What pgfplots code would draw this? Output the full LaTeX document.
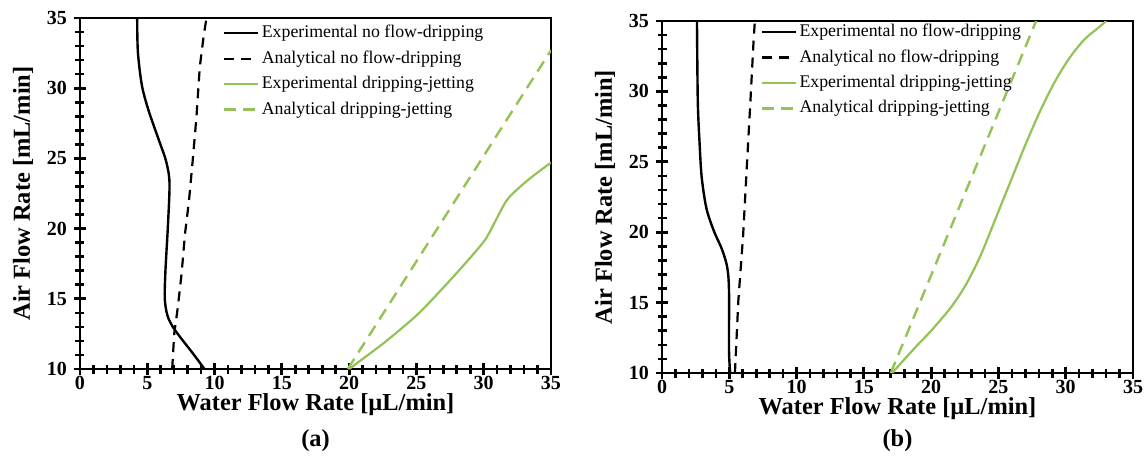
\documentclass[border=0pt]{standalone}
\usepackage{fontspec}
\setmainfont{Liberation Serif}
\usepackage{pgfplots}
\pgfplotsset{compat=1.18}
\definecolor{lgreen}{RGB}{148,194,86}

\pgfplotsset{
  flowax/.style={
    scale only axis,
    width=235.5pt, height=175.5pt,
    xmin=0, xmax=35, ymin=10, ymax=35,
    xtick={0,5,...,35}, ytick={10,15,...,35},
    minor tick num=4,
    tick pos=left,
    tick align=center,
    major tick length=6pt,
    minor tick length=4.5pt,
    axis line style={line width=1pt},
    major tick style={black, line width=1.4pt},
    minor tick style={black, line width=1.3pt},
    tick label style={font=\fontsize{10}{12}\selectfont\bfseries},
    xticklabel style={yshift=3pt},
    /pgf/number format/assume math mode=true,
    label style={font=\fontsize{12.2}{14}\selectfont\bfseries},
    xlabel={Water Flow Rate [µL/min]},
    ylabel={Air Flow Rate [mL/min]},
    xlabel style={yshift=5pt},
    ylabel style={yshift=0pt},
    legend cell align=left,
    legend style={draw=none, fill=none, anchor=north west,
      font=\fontsize{8.9}{10}\selectfont, row sep=2.2pt,
      inner sep=0pt, nodes={inner sep=1.4pt}},
    legend image code/.code={\draw[#1] (0pt,0pt) -- (17pt,0pt);},
  },
  expk/.style={black, line width=1.2pt, smooth},
  anak/.style={black, line width=1.1pt, dash pattern=on 5pt off 3.5pt},
  expg/.style={lgreen, line width=1.1pt, smooth},
  anag/.style={lgreen, line width=1.2pt, dash pattern=on 6pt off 3.8pt},
}

\begin{document}
\begin{tikzpicture}
\useasboundingbox (-40pt,-47pt) rectangle (534pt,184.5pt);

% ---- panel (a)
\begin{axis}[flowax, at={(0pt,0pt)}, anchor=south west,
  legend style={at={(axis description cs:0.302,0.988)}},
]
\addplot[expk] coordinates {(9.25,10) (8.4,11.1) (7.5,12.2) (6.9,13.0) (6.5,13.8) (6.3,15.0) (6.35,17.0) (6.55,20.5) (6.65,23.3) (6.4,24.8) (5.9,26.2) (5.1,28.4) (4.6,30.2) (4.3,32.6) (4.25,35)};
\addlegendentry{Experimental no flow-dripping}
\addplot[anak] coordinates {(6.85,10) (7.0,12.5) (7.27,14.4) (7.55,16.8) (7.8,19.6) (8.1,22) (8.37,24.8) (8.65,27.9) (8.9,31.5) (9.2,33.8) (9.4,35)};
\addlegendentry{Analytical no flow-dripping}
\addplot[expg] coordinates {(20.0,10) (21.4,11.0) (22.9,12.1) (25.1,13.9) (27.0,15.8) (28.7,17.6) (30.1,19.2) (30.9,20.6) (31.7,22.0) (32.5,22.8) (33.6,23.7) (35,24.7)};
\addlegendentry{Experimental dripping-jetting}
\addplot[anag] coordinates {(19.9,10) (35,32.7)};
\addlegendentry{Analytical dripping-jetting}
\end{axis}
\node[font=\fontsize{12.2}{14}\selectfont\bfseries] at (117.75pt,-36pt) {(a)};

% ---- panel (b)
\begin{axis}[flowax, at={(291pt,-2pt)}, anchor=south west, height=176pt,
  legend style={at={(axis description cs:0.208,1.0)}},
]
\addplot[black, line width=1.2pt, smooth] coordinates {(5.07,10) (4.98,11.6) (4.98,15.8) (4.85,17.5) (4.45,18.8) (3.85,20.1) (3.3,21.7) (2.95,23.9) (2.8,26.2) (2.66,29.3) (2.6,35)};
\addlegendentry{Experimental no flow-dripping}
\addplot[anak] coordinates {(5.42,10) (5.67,15.1) (6.03,19.8) (6.3,24.6) (6.57,29.3) (6.8,33.5) (6.9,35)};
\addlegendentry{Analytical no flow-dripping}
\addplot[expg] coordinates {(17.1,10) (18.8,11.8) (20.0,13.0) (21.5,14.7) (22.6,16.3) (23.7,18.4) (24.8,21.0) (25.9,23.6) (27.0,26.2) (28.1,28.6) (29.2,30.7) (30.3,32.4) (31.4,33.7) (32.4,34.5) (33.0,35)};
\addlegendentry{Experimental dripping-jetting}
\addplot[anag] coordinates {(17.0,10) (27.8,35)};
\addlegendentry{Analytical dripping-jetting}
\end{axis}
\node[font=\fontsize{12.2}{14}\selectfont\bfseries] at (408.75pt,-36pt) {(b)};
\end{tikzpicture}
\end{document}
